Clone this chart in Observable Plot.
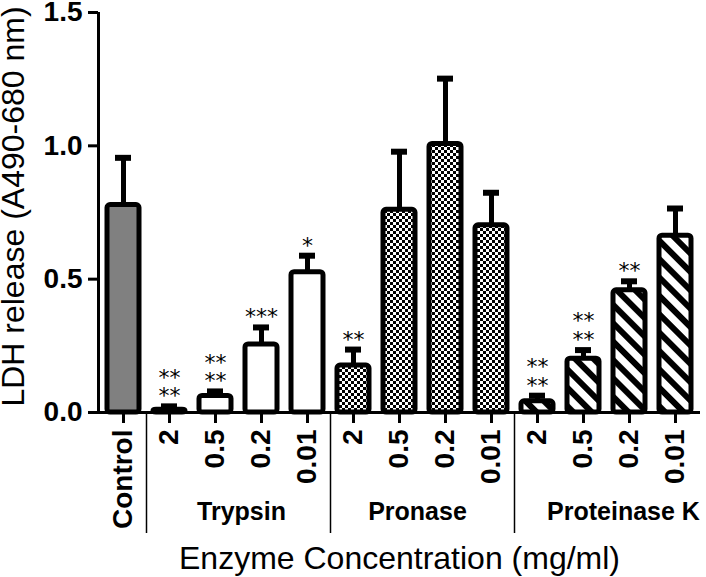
<!DOCTYPE html>
<html>
<head>
<meta charset="utf-8">
<script src="https://cdn.jsdelivr.net/npm/d3@7"></script>
<script src="https://cdn.jsdelivr.net/npm/@observablehq/plot@0.6"></script>
<style>
  html, body { margin: 0; padding: 0; background: white; }
  svg { display: block; }
</style>
</head>
<body>
<div id="chart"></div>
<script>
// ---- data ----
const categories = ["Control", "T2", "T0.5", "T0.2", "T0.01", "P2", "P0.5", "P0.2", "P0.01", "K2", "K0.5", "K0.2", "K0.01"];
const tickLabels = ["Control", "2", "0.5", "0.2", "0.01", "2", "0.5", "0.2", "0.01", "2", "0.5", "0.2", "0.01"];
const groups = ["Control", "Trypsin", "Trypsin", "Trypsin", "Trypsin", "Pronase", "Pronase", "Pronase", "Pronase", "Proteinase K", "Proteinase K", "Proteinase K", "Proteinase K"];
const means = [0.778, 0.010, 0.062, 0.255, 0.526, 0.176, 0.760, 1.007, 0.702, 0.042, 0.202, 0.458, 0.663];
const sems = [0.177, 0.013, 0.017, 0.064, 0.062, 0.060, 0.218, 0.245, 0.122, 0.021, 0.032, 0.034, 0.102];
const stars = ["", "**\n**", "**\n**", "***", "*", "**", "", "", "", "**\n**", "**\n**", "**", ""];
const groupNames = ["Trypsin", "Pronase", "Proteinase K"];
const groupAnchor = ["T0.5", "P0.5", "K0.5"];
const groupShift = [26, 18, 40];
const separators = ["T2", "P2", "K2"];
const yTicks = [0, 0.5, 1.0, 1.5];
const yTitle = "LDH release (A490-680 nm)";
const xTitle = "Enzyme Concentration (mg/ml)";
const groupFill = {"Control": "#808080", "Trypsin": "white", "Pronase": "url(#checker)", "Proteinase K": "url(#stripes)"};

const data = categories.map((id, i) => ({id, label: tickLabels[i], group: groups[i], mean: means[i], sem: sems[i], stars: stars[i]}));
const labelOf = new Map(data.map(d => [d.id, d.label]));

const barMarks = Object.keys(groupFill).map(g =>
  Plot.barY(data.filter(d => d.group === g), {
    x: "id", y: "mean", fill: groupFill[g], stroke: "black", strokeWidth: 5, rx: 3
  })
);

const groupMarks = groupNames.map((g, i) =>
  Plot.text([g], {x: () => groupAnchor[i], text: d => d, frameAnchor: "bottom", lineAnchor: "bottom",
    textAnchor: "middle", dx: groupShift[i], dy: 107, fontSize: 25, fontWeight: "bold", fill: "black"})
);

const chart = Plot.plot({
  width: 706,
  height: 577,
  marginLeft: 98,
  marginRight: 6,
  marginTop: 12,
  marginBottom: 165,
  style: {fontFamily: "'Liberation Sans', Arial, sans-serif", background: "white", color: "black", overflow: "visible"},
  x: {domain: categories, paddingInner: 0.3, paddingOuter: 0.193, label: null},
  y: {domain: [0, 1.5], label: null},
  marks: [
    Plot.axisY({ticks: yTicks, tickFormat: d3.format(".1f"), tickSize: 10, tickPadding: 6, strokeWidth: 3,
      fontSize: 28, fontWeight: "bold", label: null}),
    Plot.axisX({tickSize: 11, tickPadding: 6, tickRotate: -90, tickFormat: d => labelOf.get(d), strokeWidth: 3,
      fontSize: 28, fontWeight: "bold", label: null}),
    // error bars (upper only)
    Plot.ruleX(data, {x: "id", y1: "mean", y2: d => d.mean + d.sem, strokeWidth: 5, stroke: "black"}),
    Plot.tickY(data, {x: "id", y: d => d.mean + d.sem, strokeWidth: 6, stroke: "black", insetLeft: 8, insetRight: 8}),
    ...barMarks,
    // axis lines
    Plot.ruleY([0], {strokeWidth: 3, stroke: "black"}),
    Plot.ruleX(["Control"], {x: d => d, dx: -25, strokeWidth: 3, stroke: "black"}),
    // group separators
    Plot.ruleX(separators, {x: d => d, dx: -23, insetTop: 279, dy: 121, strokeWidth: 1.5, stroke: "black"}),
    // significance stars
    Plot.text(data.filter(d => d.stars), {x: "id", y: d => d.mean + d.sem, text: "stars", lineAnchor: "bottom",
      dy: -3, fontSize: 22, lineHeight: 0.85, fill: "black", fontFamily: "'DejaVu Sans', sans-serif"}),
    ...groupMarks,
    Plot.text([yTitle], {frameAnchor: "left", text: d => d, rotate: -90, textAnchor: "middle", lineAnchor: "middle",
      dx: -85, dy: -6, fontSize: 32, fill: "black"}),
    Plot.text([xTitle], {frameAnchor: "bottom", text: d => d, textAnchor: "middle", lineAnchor: "bottom",
      dy: 156, fontSize: 32, fill: "black"})
  ]
});

// pattern definitions for hatched fills
const svg = d3.select(chart);
const defs = svg.insert("defs", ":first-child");
const checker = defs.append("pattern").attr("id", "checker").attr("patternUnits", "userSpaceOnUse")
  .attr("width", 6).attr("height", 6);
checker.append("rect").attr("width", 6).attr("height", 6).attr("fill", "white");
checker.append("rect").attr("width", 3).attr("height", 3).attr("fill", "black");
checker.append("rect").attr("x", 3).attr("y", 3).attr("width", 3).attr("height", 3).attr("fill", "black");
const stripes = defs.append("pattern").attr("id", "stripes").attr("patternUnits", "userSpaceOnUse")
  .attr("width", 13).attr("height", 13).attr("patternTransform", "rotate(45)");
stripes.append("rect").attr("width", 13).attr("height", 13).attr("fill", "white");
stripes.append("rect").attr("width", 13).attr("height", 6).attr("fill", "black");

document.getElementById("chart").appendChild(chart);
</script>
</body>
</html>
